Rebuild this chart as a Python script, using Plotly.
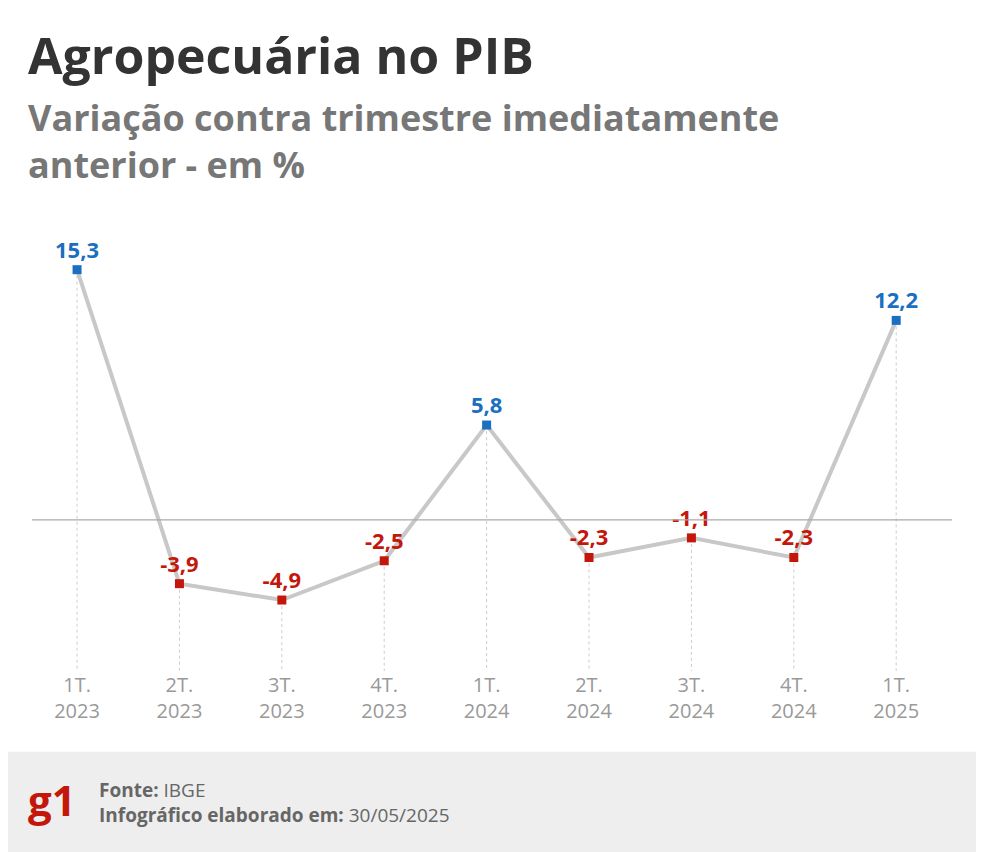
import plotly.graph_objects as go

quarters = ["1T.<br>2023", "2T.<br>2023", "3T.<br>2023", "4T.<br>2023", "1T.<br>2024",
            "2T.<br>2024", "3T.<br>2024", "4T.<br>2024", "1T.<br>2025"]
values = [15.3, -3.9, -4.9, -2.5, 5.8, -2.3, -1.1, -2.3, 12.2]

BLUE = "#1a6fc0"
RED = "#c4170c"
GRAY = "#999999"
Y_BOTTOM = -9.24

x = list(range(len(values)))
colors = [BLUE if v > 0 else RED for v in values]
labels = [f"<b>{v:.1f}</b>".replace(".", ",") for v in values]

fig = go.Figure()

# linhas pontilhadas verticais
vx, vy = [], []
for i, v in zip(x, values):
    vx += [i, i, None]
    vy += [v, Y_BOTTOM, None]
fig.add_trace(go.Scatter(x=vx, y=vy, mode="lines", hoverinfo="skip",
                         line=dict(color="#cccccc", width=1, dash="dot")))

fig.add_trace(go.Scatter(
    x=x, y=values, mode="lines+markers+text",
    line=dict(color="#c8c8c8", width=4),
    marker=dict(symbol="square", size=9, color=colors),
    text=labels, textposition="top center",
    textfont=dict(family="Open Sans", size=22, color=colors),
))

fig.add_hline(y=0, line=dict(color="#aaaaaa", width=1.2))

# rodapé
fig.add_shape(type="rect", xref="paper", yref="paper", x0=-0.2, x1=1.2,
              y0=-0.6, y1=-0.172, fillcolor="#eeeeee", line_width=0, layer="below")

fig.add_annotation(text="<b>Agropecuária no PIB</b>", xref="paper", yref="paper",
                   x=-0.006, y=1.31, xanchor="left", yanchor="middle", showarrow=False,
                   font=dict(family="Open Sans", size=50, color="#333333"))
fig.add_annotation(text="<b>Variação contra trimestre imediatamente<br>anterior - em %</b>",
                   xref="paper", yref="paper", x=-0.006, y=1.128, xanchor="left",
                   yanchor="middle", align="left", showarrow=False,
                   font=dict(family="Open Sans", size=36, color="#777777"))
fig.add_annotation(text="<b>g1</b>", xref="paper", yref="paper", x=-0.006, y=-0.274,
                   xanchor="left", yanchor="middle", showarrow=False,
                   font=dict(family="Open Sans", size=42, color=RED))
fig.add_annotation(text="<b>Fonte:</b> IBGE<br><b>Infográfico elaborado em:</b> 30/05/2025",
                   xref="paper", yref="paper", x=0.071, y=-0.28, xanchor="left",
                   yanchor="middle", align="left", showarrow=False,
                   font=dict(family="Open Sans", size=19, color="#666666"))

fig.update_layout(
    width=984, height=852,
    margin=dict(l=24, r=40, t=193, b=189),
    paper_bgcolor="white", plot_bgcolor="white",
    showlegend=False,
)
fig.update_xaxes(range=[-0.44, 8.545], tickvals=x, ticktext=quarters,
                 showgrid=False, zeroline=False, showline=False, ticks="",
                 tickfont=dict(family="Open Sans", size=20, color=GRAY))
fig.update_yaxes(range=[Y_BOTTOM, 19.5], visible=False)

fig.write_html("out.html")
